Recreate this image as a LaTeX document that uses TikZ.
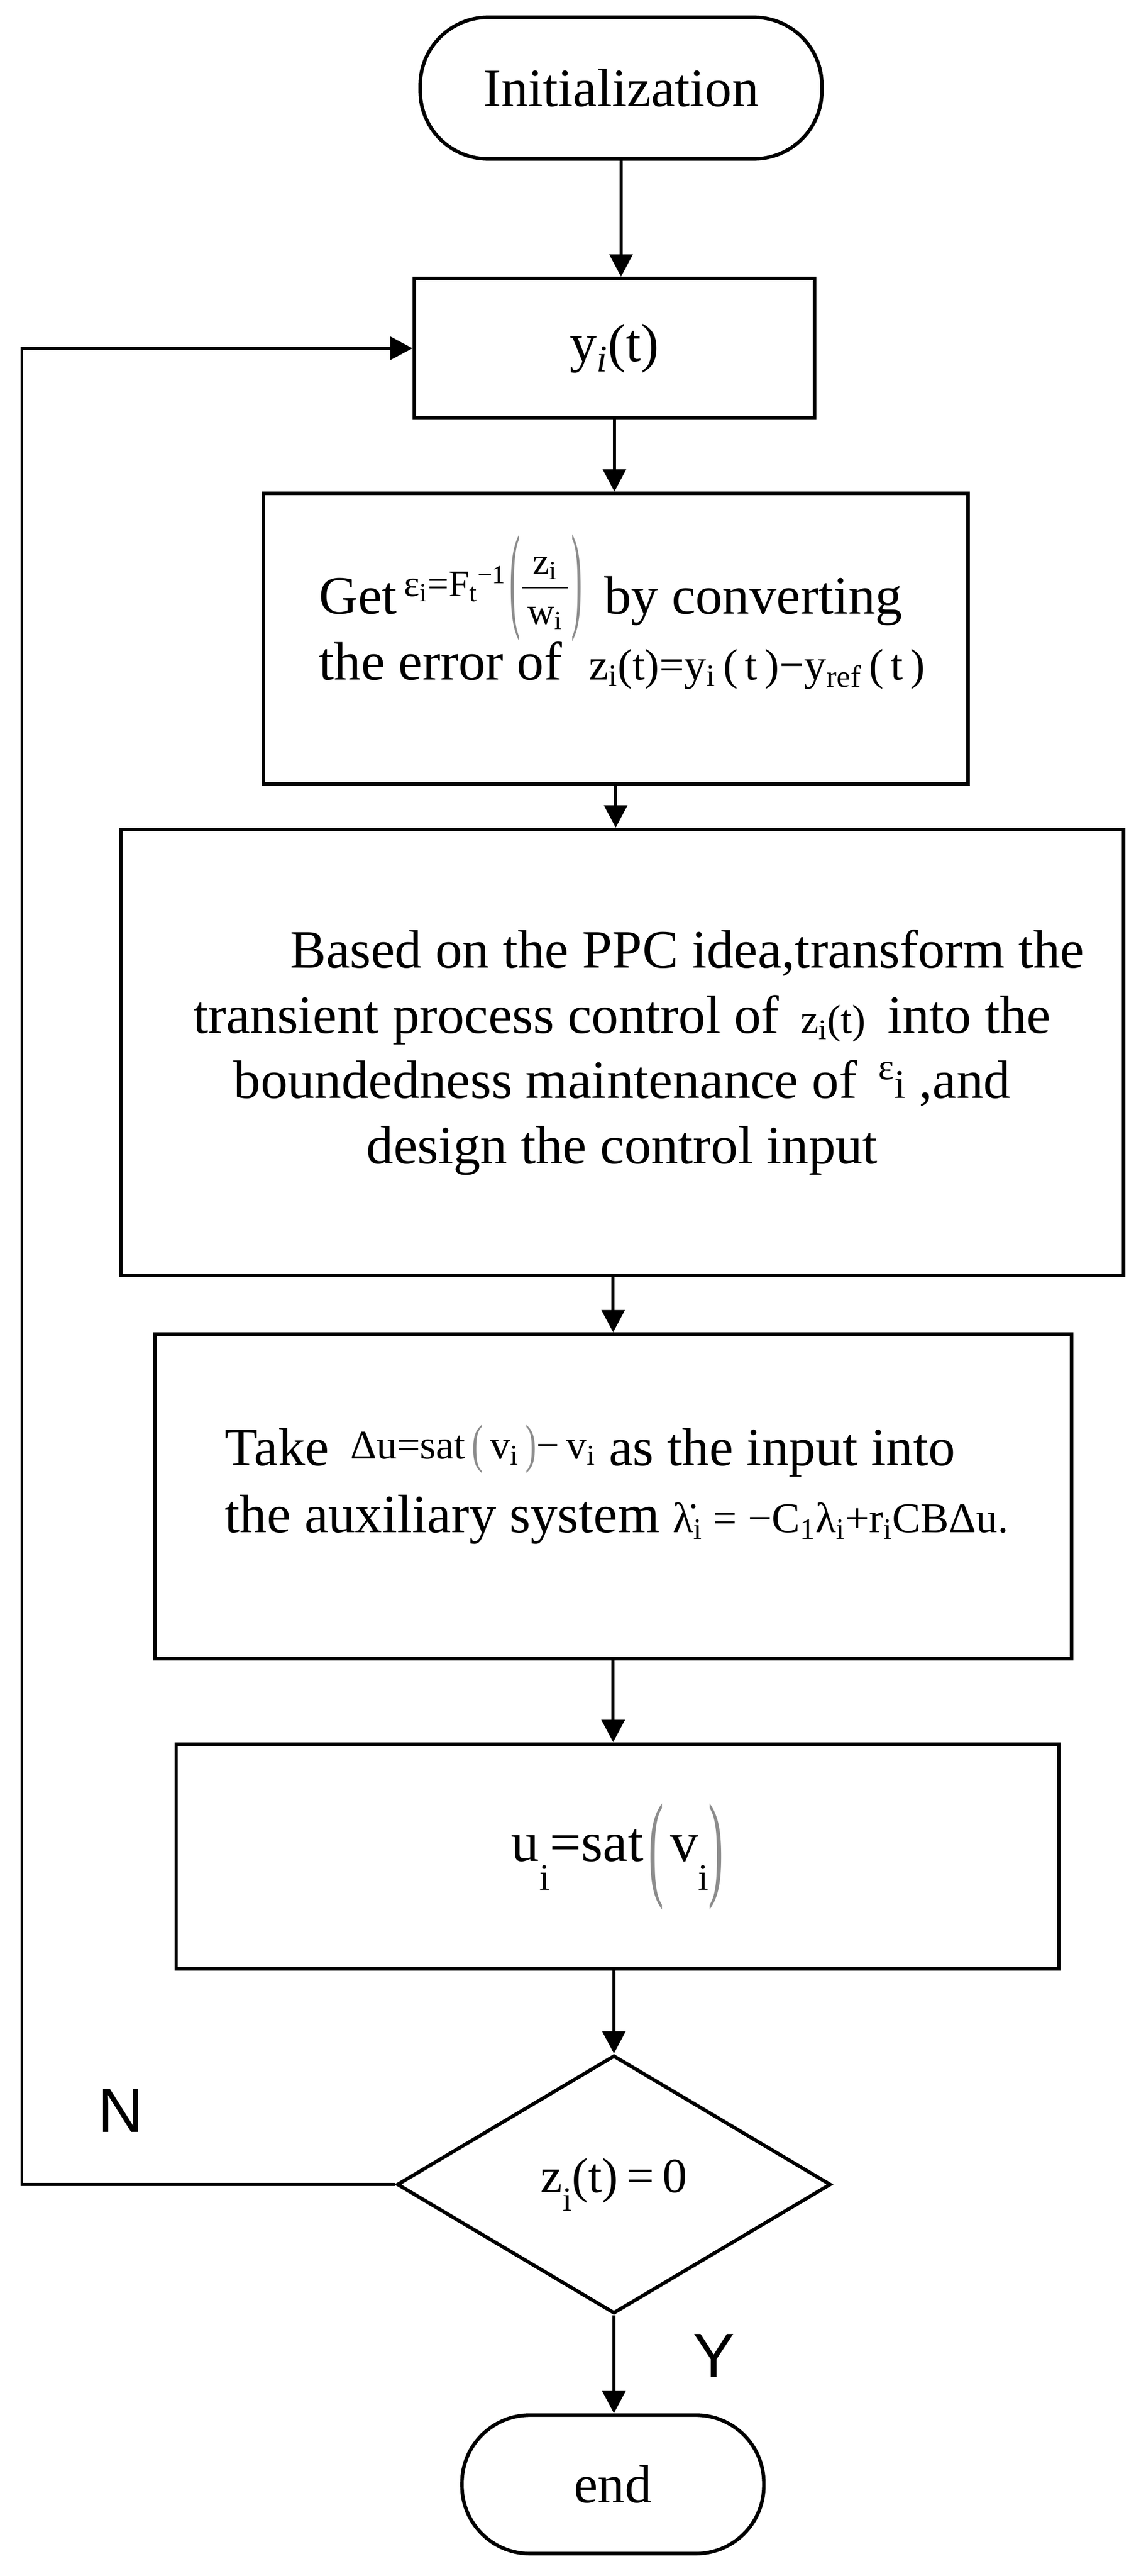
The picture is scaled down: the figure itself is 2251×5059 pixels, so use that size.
\documentclass[tikz,border=0pt]{standalone}
\usepackage{fontspec}
\setmainfont{Liberation Serif}
\newfontfamily\arialf{Liberation Sans}
\usepackage{graphicx}
\usetikzlibrary{arrows.meta,shapes.geometric}
\newcommand\mainsize{\fontsize{31.8pt}{38.4pt}\selectfont}
\newcommand\mf{\fontsize{24pt}{24pt}\selectfont}
\newcommand\mg{\fontsize{25pt}{25pt}\selectfont}
\newcommand\mh{\fontsize{26pt}{26pt}\selectfont}
\newcommand\ms{\fontsize{22pt}{22pt}\selectfont}
\newcommand\sub[1]{\textsubscript{#1}}
\newcommand\tparen[3]{\raisebox{#2}{\textcolor{black!45}{\scalebox{0.8}[#1]{#3}}}}
\newcommand\ffrac[2]{\rlap{\raisebox{23.5pt}{\makebox[27pt][c]{#1}}}\rlap{\raisebox{15pt}{\rule{27pt}{0.7pt}}}\raisebox{-6pt}{\makebox[27pt][c]{#2}}}
\begin{document}
\begin{tikzpicture}[x=0.3pt,y=-0.3pt,
  box/.style={draw,line width=2.1pt,rectangle,inner sep=0pt,font=\mainsize},
  term/.style={draw,line width=2.1pt,rectangle,rounded corners=40pt,inner sep=0pt,font=\mainsize},
  decis/.style={draw,line width=2.1pt,diamond,inner sep=0pt},
  conn/.style={line width=1.8pt,-{Triangle[length=13.2pt,width=13.5pt]}},
  lab/.style={font=\arialf\fontsize{37pt}{37pt}\selectfont,inner sep=0pt}]
\fill[white] (0,0) rectangle (2251,5059);
\useasboundingbox (0,0) rectangle (2251,5059);

\node[term,minimum width=236.7pt,minimum height=83.4pt] (init) at (1220,173) {Initialization};

\node[box,minimum width=235.8pt,minimum height=82.2pt] (yi) at (1207,684) {y\sub{\textit{i}}(t)};

\node[box,minimum width=415.5pt,minimum height=171pt,align=flush left,text width=349.5pt] (get) at (1209.5,1254)
 {\mbox{Get\hspace{4pt}\raisebox{10.5pt}{\ms ε\sub{i}=F\sub{t}\textsuperscript{−1}}\hspace{2pt}\tparen{2.9}{-1.5pt}{\mf(}\hspace{1pt}\ffrac{\ms z\sub{i}}{\ms w\sub{i}}\hspace{2pt}\tparen{2.9}{-1.5pt}{\mf)}\hspace{5pt}\ by converting}\\[-1pt]
  \mbox{the error of\hspace{0.5em}{\mh z\sub{i}(t)=y\sub{i}\,(\,t\,)−y\sub{ref}\,(\,t\,)}}\rule[-37pt]{0pt}{1pt}};

\node[box,minimum width=591pt,minimum height=262.8pt,align=center] (ppc) at (1222,2067)
 {\hspace*{76.8pt}Based on the PPC idea,transform the\\
  transient process control of\hspace{0.4em}{\mf z\sub{i}(t)}\hspace{0.4em}into the\\
  boundedness maintenance of\hspace{0.4em}{\ms\raisebox{11pt}{ε}}{\mf i} ,and\\
  design the control input};

\node[box,minimum width=540.3pt,minimum height=191.1pt,align=flush left,text width=457.5pt] (take) at (1204.5,2938.5)
 {\rule{0pt}{27pt}\mbox{Take\hspace{0.4em}\raisebox{4pt}{\mf Δu=sat\,\tparen{1.3}{-2pt}{(}\,v\sub{i}\,\tparen{1.3}{-2pt}{)}−\,v\sub{i}} as the input into}\\[1.2pt]
  \mbox{the auxiliary system {\mg \.{λ}\sub{i} = −C\sub{1}λ\sub{i}+r\sub{i}CBΔu.}}\rule[-23.7pt]{0pt}{1pt}};

\node[box,minimum width=520.2pt,minimum height=132.6pt,font=\fontsize{33pt}{38pt}\selectfont] (ubox) at (1213,3646)
 {u\raisebox{-17pt}{\fontsize{22pt}{22pt}\selectfont i}=sat\hspace{3pt}\tparen{2.09}{-13.8pt}{(}\hspace{4pt}v\raisebox{-17pt}{\fontsize{22pt}{22pt}\selectfont i}\tparen{2.09}{-13.8pt}{)}};

\node[decis,minimum width=255.6pt,minimum height=152.1pt] (dec) at (1206,4290)
 {\fontsize{29pt}{29pt}\selectfont z\raisebox{-11pt}{\fontsize{20pt}{20pt}\selectfont i}(t)\,=\,0};

\node[term,minimum width=177.9pt,minimum height=81.6pt] (endn) at (1204,4879) {end};

\coordinate (lp) at (43,4290);

\draw[conn] (init.south) -- (init.south |- yi.north);
\draw[conn] (yi.south) -- (yi.south |- get.north);
\draw[conn] (get.south) -- (get.south |- ppc.north);
\draw[conn] (take.north |- ppc.south) -- (take.north);
\draw[conn] (take.south) -- (take.south |- ubox.north);
\draw[conn] (dec.north |- ubox.south) -- (dec.north);
\draw[conn] (dec.south) -- (dec.south |- endn.north);
\draw[conn] (dec.west) -- (dec.west -| lp) |- (yi.west);

\node[lab] (nlab) at (237,4145) {N};
\node[lab] (ylab) at (1402,4626) {Y};
\end{tikzpicture}
\end{document}
